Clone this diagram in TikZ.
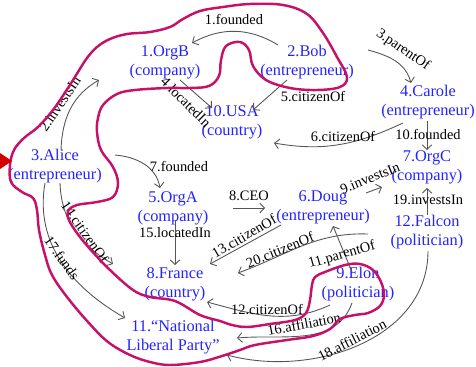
\documentclass[tikz,border=0pt]{standalone}
\usepackage{fontspec}
\setmainfont{Liberation Serif}
\usetikzlibrary{arrows.meta,calc}
\definecolor{nodeblue}{RGB}{35,35,255}
\definecolor{edgegray}{RGB}{85,85,85}
\definecolor{hullcol}{RGB}{200,16,105}
\definecolor{tipred}{RGB}{210,0,0}
\tikzset{
  ent/.style={text=nodeblue, align=center, inner sep=0pt, font=\fontsize{9.3}{10.8}\selectfont},
  lbl/.style={text=black, inner sep=0pt, font=\fontsize{8.2}{9.5}\selectfont},
  rel/.style={draw=edgegray, line width=0.5pt, -{Straight Barb[length=2.6pt,width=5.5pt]}},
  hull/.style={draw=hullcol, line width=1.4pt, line join=round},
}
\begin{document}
\begin{tikzpicture}[x=0.02cm,y=0.02cm]
\useasboundingbox (0,0) rectangle (476,366);

% entities
\node[ent] (orgb)   at (165,304) {1.OrgB\\(company)};
\node[ent] (bob)    at (307,304) {2.Bob\\(entrepreneur)};
\node[ent] (usa)    at (232,244) {10.USA\\(country)};
\node[ent] (carole) at (428,264) {4.Carole\\(entrepreneur)};
\node[ent] (alice)  at (55,200)  {3.Alice\\(entrepreneur)};
\node[ent] (orgc)   at (427,199) {7.OrgC\\(company)};
\node[ent] (orga)   at (173,158) {5.OrgA\\(company)};
\node[ent] (doug)   at (323,159) {6.Doug\\(entrepreneur)};
\node[ent] (falcon) at (427,134) {12.Falcon\\(politician)};
\node[ent] (france) at (175,82)  {8.France\\(country)};
\node[ent] (elon)   at (358,82)  {9.Elon\\(politician)};
\node[ent] (nlp)    at (173,29)  {11.“National\\Liberal Party”};

% relations
\draw[rel] ($(bob)+(-29,17)$) to[bend right=30] ($(orgb)+(27,19)$);
\draw[rel] ($(alice)+(6,16)$) to[out=88,in=210] ($(orgb)+(-66,-18)$);
\draw[rel] ($(bob)+(61,12)$) to[out=-15,in=105] ($(carole)+(-17,19)$);
\draw[rel] ($(orgb)+(15,-18)$) -- ($(usa)+(-20,14)$);
\draw[rel] ($(bob)+(-20,-18)$) -- ($(usa)+(21,12)$);
\draw[rel] ($(carole)+(-25,-21)$) to[out=205,in=-10] ($(usa)+(42,-21)$);
\draw[rel] ($(alice)+(60,11)$) to[out=-5,in=100] ($(orga)+(-13,20)$);
\draw[rel] ($(orga)+(60,0)$) -- ($(doug)+(-58,-1)$);
\draw[rel] ($(doug)+(43,14)$) -- ($(orgc)+(-45,-20)$);
\draw[rel] ($(carole)+(-1,-19)$) -- ($(orgc)+(0,17)$);
\draw[rel] ($(elon)+(-6,12)$) -- ($(doug)+(10,-19)$);
\draw[rel] ($(elon)+(-28,-21)$) to[out=205,in=-15] ($(france)+(32,-18)$);
\draw[rel] ($(doug)+(-42,-18)$) -- ($(france)+(35,20)$);
\draw[rel] ($(alice)+(5,-17)$) to[out=-88,in=150] ($(france)+(-62,20)$);
\draw[rel] ($(orga)+(2,-12)$) -- ($(france)+(0,19)$);
\draw[rel] ($(elon)+(-6,-19)$) to[out=250,in=5] ($(nlp)+(64,-1)$);
\draw[rel] ($(alice)+(-10,-17)$) to[out=-100,in=150] ($(nlp)+(-48,19)$);
\draw[rel] ($(falcon)+(1,-19)$) to[out=-90,in=-15] ($(nlp)+(54,-18)$);
\draw[rel] ($(falcon)+(0,17)$) -- ($(orgc)+(0,-21)$);
\draw[rel] ($(falcon)+(-59,-2)$) to[out=178,in=20] ($(france)+(63,11)$);

% relation labels
\node[lbl] (l1) at (234,346) {1.founded};
\node[lbl, rotate=56] (l2) at (60,262) {2.investsIn};
\node[lbl, rotate=-35] (l3) at (403,316) {3.parentOf};
\node[lbl, rotate=-45] (l4) at (186,264) {4.locatedIn};
\node[lbl] (l5) at (313,269) {5.citizenOf};
\node[lbl] (l6) at (343,229) {6.citizenOf};
\node[lbl] (l7) at (179,199) {7.founded};
\node[lbl] (l8) at (249,170) {8.CEO};
\node[lbl, rotate=22] (l9) at (370,188) {9.investsIn};
\node[lbl] (l10) at (428,231) {10.founded};
\node[lbl, rotate=16] (l11) at (342,111) {11.parentOf};
\node[lbl] (l12) at (267,56) {12.citizenOf};
\node[lbl, rotate=30] (l13) at (244,130) {13.citizenOf};
\node[lbl, rotate=-55] (l14) at (85,134) {14.citizenOf};
\node[lbl] (l15) at (175,133) {15.locatedIn};
\node[lbl, rotate=11] (l16) at (304,42) {16.affiliation};
\node[lbl, rotate=-55] (l17) at (62,108) {17.funds};
\node[lbl, rotate=27] (l18) at (352,26) {18.affiliation};
\node[lbl] (l19) at (428,166) {19.investsIn};
\node[lbl, rotate=22] (l20) at (280,116) {20.citizenOf};

% hand-drawn outline
\draw[hull] plot[smooth cycle, tension=0.6] coordinates {
 (283,361) (250,362) (223,359) (200,355) (183,347) (170,339) (150,334) (127,332)
 (110,327) (97,319) (87,308) (78,294) (68,278) (53,256) (38,239) (24,228)
 (14,216) (10,201) (11,184) (22,174) (33,168) (37,156) (39,136) (45,111)
 (52,91) (67,69) (88,44) (108,24) (130,11) (150,4) (170,1) (200,4)
 (222,10) (240,16) (255,21) (287,26) (313,30) (330,37) (340,47) (355,51)
 (368,53) (380,60) (384,71) (381,84) (373,96) (360,102) (345,101) (325,94)
 (315,89) (312,81) (310,66) (306,53) (295,46) (270,42) (247,39) (232,41)
 (220,45) (200,51) (175,65) (150,69) (133,76) (110,96) (90,117) (77,133)
 (69,146) (68,155) (77,161) (97,164) (113,169) (118,183) (113,199) (101,216)
 (97,234) (98,248) (103,261) (117,272) (135,276) (167,278) (190,278) (209,280)
 (219,290) (221,306) (226,320) (240,324) (249,316) (253,300) (266,286) (290,278)
 (317,276) (340,279) (347,289) (337,309) (323,333) (307,352)
};

% red pointer at the left edge
\fill[tipred] (0,213) -- (12,205) -- (0,197) -- cycle;
\end{tikzpicture}
\end{document}
